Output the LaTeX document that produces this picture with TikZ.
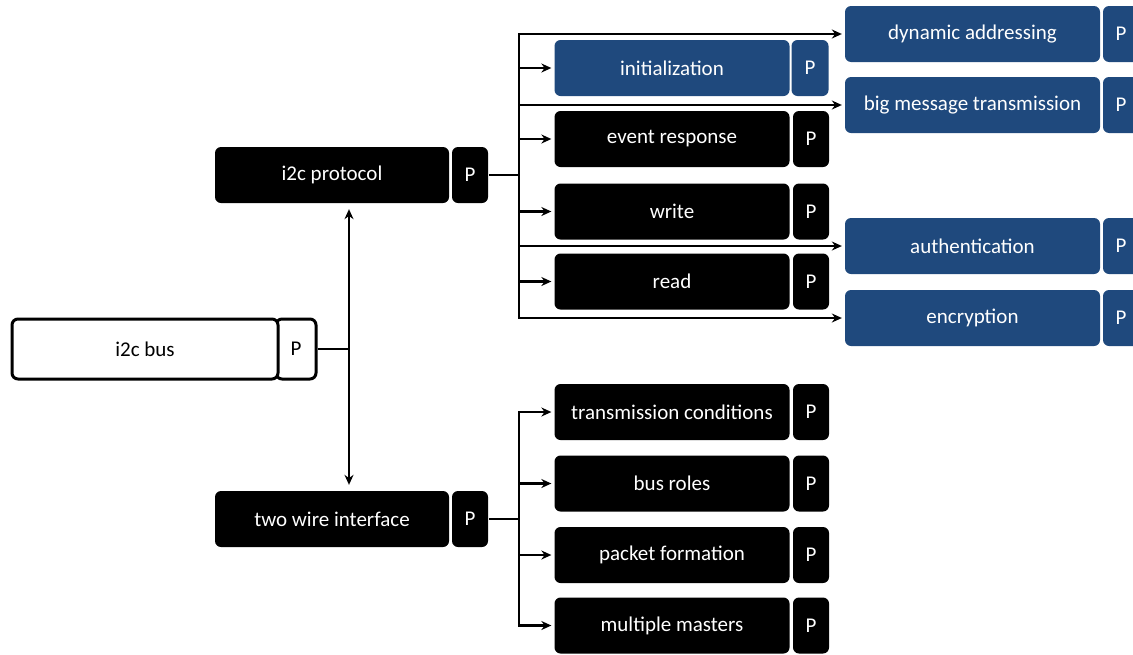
\documentclass[tikz,border=0pt]{standalone}
\usepackage{fontspec}
\setmainfont{Carlito}
\usetikzlibrary{arrows.meta}

\definecolor{featblue}{HTML}{1F497D}

\tikzset{
  featbox/.style={rounded corners=6pt, inner sep=0pt, minimum height=56,
    fill=black, text=white, font=\fontsize{21}{25}\selectfont},
  bluebox/.style={featbox, fill=featblue},
  rootbox/.style={featbox, draw=black, line width=3pt, fill=white,
    text=black, minimum height=60},
  conn/.style={-{Stealth[length=10pt,width=9pt]}, shorten >=2pt},
}

\begin{document}
\begin{tikzpicture}[x=1pt, y=-1pt, line width=2.3pt]
        \useasboundingbox (0,0) rectangle (1133,654);
        % root feature
        \node[rootbox, minimum width=40] (busP) at (296,349) {P};
        \node[rootbox, minimum width=266] (bus) at (145,349) {i2c bus};
        % second level
        \node[featbox, minimum width=234] (proto) at (332,175) {i2c protocol};
        \node[featbox, minimum width=36] (protoP) at (470,175) {P};
        \node[featbox, minimum width=234] (twi) at (332,519) {two wire interface};
        \node[featbox, minimum width=36] (twiP) at (470,519) {P};
        % i2c protocol children
        \node[bluebox, minimum width=235] (init) at (672,68) {initialization};
        \node[bluebox, minimum width=37] (initP) at (810,68) {P};
        \node[featbox, minimum width=235] (event) at (672,139) {event response};
        \node[featbox, minimum width=36] (eventP) at (811,139) {P};
        \node[featbox, minimum width=235] (write) at (672,211.5) {write};
        \node[featbox, minimum width=36] (writeP) at (811,211.5) {P};
        \node[featbox, minimum width=235] (read) at (672,281.5) {read};
        \node[featbox, minimum width=36] (readP) at (811,281.5) {P};
        \node[bluebox, minimum width=255] (dyn) at (972.5,34) {dynamic addressing};
        \node[bluebox, minimum width=36] (dynP) at (1121,34) {P};
        \node[bluebox, minimum width=255] (big) at (972.5,105) {big message transmission};
        \node[bluebox, minimum width=36] (bigP) at (1121,105) {P};
        \node[bluebox, minimum width=255] (auth) at (972.5,246) {authentication};
        \node[bluebox, minimum width=36] (authP) at (1121,246) {P};
        \node[bluebox, minimum width=255] (enc) at (972.5,318) {encryption};
        \node[bluebox, minimum width=36] (encP) at (1121,318) {P};
        % two wire interface children
        \node[featbox, minimum width=235] (cond) at (672,412) {transmission conditions};
        \node[featbox, minimum width=36] (condP) at (811,412) {P};
        \node[featbox, minimum width=235] (roles) at (672,483.5) {bus roles};
        \node[featbox, minimum width=36] (rolesP) at (811,483.5) {P};
        \node[featbox, minimum width=235] (packet) at (672,555) {packet formation};
        \node[featbox, minimum width=36] (packetP) at (811,555) {P};
        \node[featbox, minimum width=235] (multi) at (672,625.5) {multiple masters};
        \node[featbox, minimum width=36] (multiP) at (811,625.5) {P};

        % connectors
        \coordinate (vj) at (349,349);
        \draw (busP.east) -- (vj);
        \draw[{Stealth[length=10pt,width=9pt]}-{Stealth[length=10pt,width=9pt]}, shorten <=5pt, shorten >=5pt]
            (vj |- proto.south) -- (vj |- twi.north);

        \coordinate (pj) at (519,175);
        \draw (protoP.east) -- (pj);
        \foreach \n in {dyn, init, big, event, write, auth, read, enc}
            \draw[conn] (pj) |- (\n.west);

        \coordinate (tj) at (519,519);
        \draw (twiP.east) -- (tj);
        \foreach \n in {cond, roles, packet, multi}
            \draw[conn] (tj) |- (\n.west);
\end{tikzpicture}
\end{document}
